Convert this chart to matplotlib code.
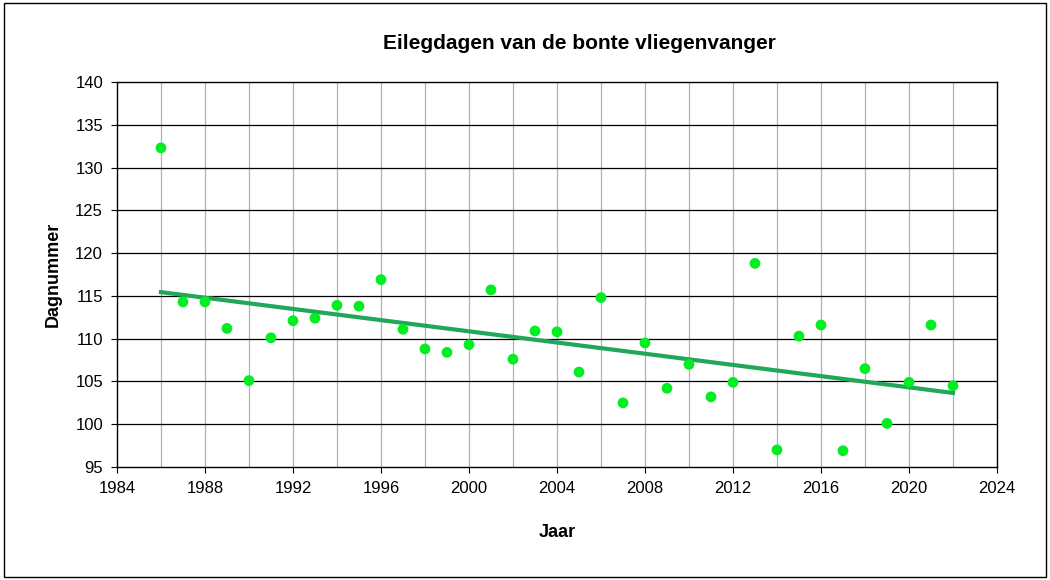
import matplotlib
matplotlib.use("Agg")
import matplotlib.pyplot as plt
import numpy as np
from matplotlib.patches import Rectangle

plt.rcParams['font.family'] = 'Liberation Sans'

years = list(range(1986, 2023))
days = [132.3, 114.3, 114.3, 111.2, 105.1, 110.1, 112.1, 112.4, 113.9, 113.8,
        116.9, 111.1, 108.8, 108.4, 109.3, 115.7, 107.6, 110.9, 110.8, 106.1,
        114.8, 102.5, 109.5, 104.2, 107.0, 103.2, 104.9, 118.8, 97.0, 110.3,
        111.6, 96.9, 106.5, 100.1, 104.9, 111.6, 104.5]
xticks = list(range(1984, 2025, 4))
yticks = list(range(95, 141, 5))

fig = plt.figure(figsize=(10.5, 5.8), dpi=100)
fig.patches.append(Rectangle((0.004, 0.006), 0.992, 0.988, transform=fig.transFigure,
                             fill=False, edgecolor='black', linewidth=1))
ax = fig.add_axes([0.1114, 0.1948, 0.8381, 0.6638])
ax.set_xlim(1984, 2024)
ax.set_ylim(95, 140)
for yr in range(1986, 2024, 2):
    ax.axvline(yr, color='#b0b0b0', linewidth=0.9, zorder=0)
for v in yticks[1:-1]:
    ax.axhline(v, color='black', linewidth=0.9, zorder=0)
x = np.array(years); y = np.array(days)
k, b = np.polyfit(x, y, 1)
ax.plot([x[0], x[-1]], [k*x[0]+b, k*x[-1]+b], color='#20a858', linewidth=3, zorder=2)
ax.scatter(x, y, s=60, color='#00ee22', zorder=3, edgecolors='none')
ax.set_xticks(xticks)
ax.set_yticks(yticks)
ax.tick_params(axis='x', labelsize=12, direction='out', length=4, pad=6)
ax.tick_params(axis='y', labelsize=12, direction='out', length=4, pad=6)
for s in ax.spines.values():
    s.set_linewidth(1)
ax.set_xlabel('Jaar', fontsize=13, fontweight='bold', labelpad=20)
ax.set_ylabel('Dagnummer', fontsize=13, fontweight='bold', labelpad=10)
fig.text(0.552, 0.925, 'Eilegdagen van de bonte vliegenvanger', fontsize=15,
         fontweight='bold', ha='center', va='center')
fig.savefig('out.png', dpi=100)
